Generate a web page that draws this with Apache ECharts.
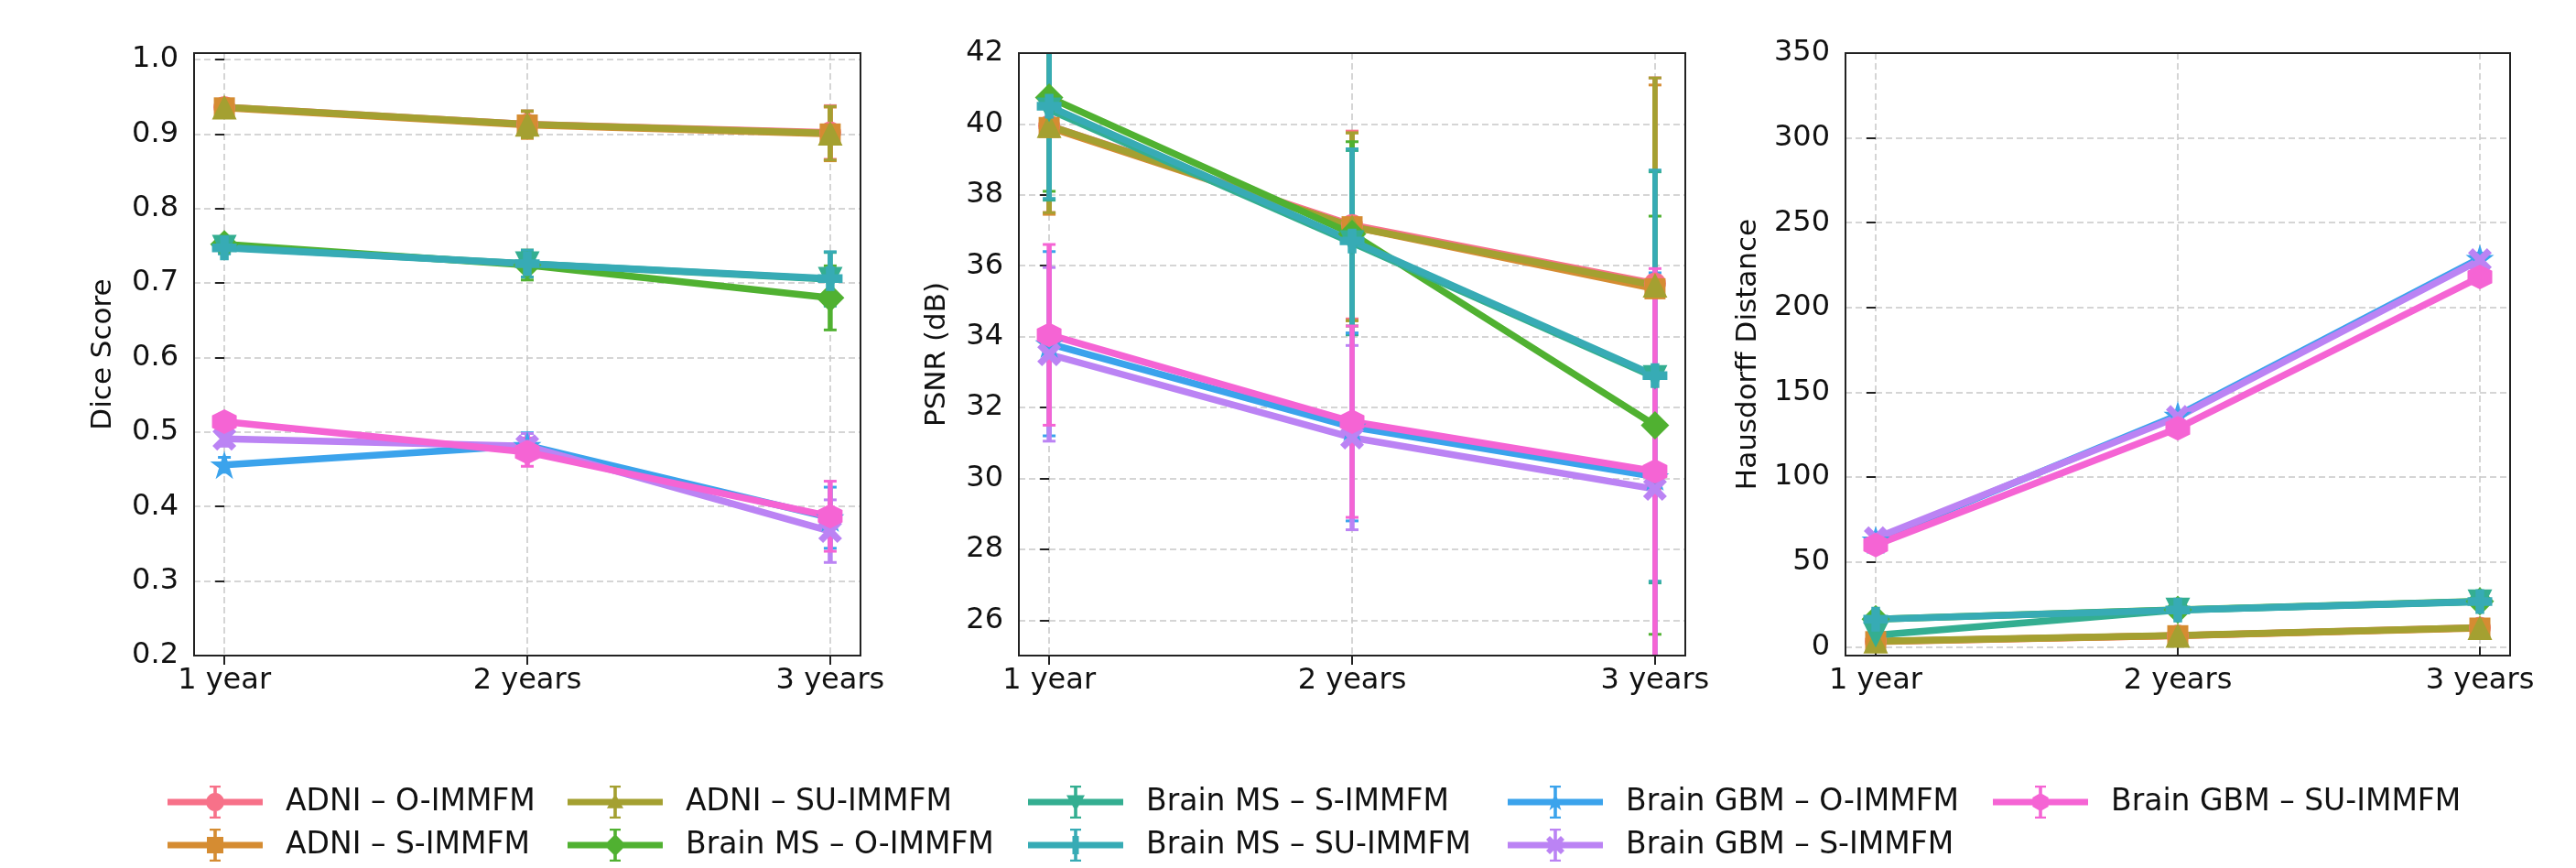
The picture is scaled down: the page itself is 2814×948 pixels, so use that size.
<!DOCTYPE html>
<html><head><meta charset="utf-8">
<script src="https://cdn.jsdelivr.net/npm/echarts@6/dist/echarts.min.js"></script>
<style>html,body{margin:0;padding:0;background:#fff}#c{width:2814px;height:948px}</style>
</head><body><div id="c"></div>
<script>
// ---------------- DATA ----------------
const categories = ['1 year', '2 years', '3 years'];
const seriesNames = [
  'ADNI – O-IMMFM', 'ADNI – S-IMMFM', 'ADNI – SU-IMMFM',
  'Brain MS – O-IMMFM', 'Brain MS – S-IMMFM', 'Brain MS – SU-IMMFM',
  'Brain GBM – O-IMMFM', 'Brain GBM – S-IMMFM', 'Brain GBM – SU-IMMFM'
];
// Dice score (mean, std) per series, per time point
const diceMeans = [
  [0.936, 0.913, 0.902],
  [0.935, 0.912, 0.900],
  [0.936, 0.913, 0.901],
  [0.752, 0.724, 0.680],
  [0.748, 0.726, 0.705],
  [0.747, 0.726, 0.706],
  [0.456, 0.482, 0.385],
  [0.491, 0.481, 0.367],
  [0.514, 0.473, 0.387]
];
const diceStds = [
  [0.008, 0.018, 0.036],
  [0.008, 0.018, 0.036],
  [0.008, 0.018, 0.036],
  [0.008, 0.020, 0.043],
  [0.008, 0.018, 0.036],
  [0.008, 0.018, 0.036],
  [0.010, 0.017, 0.041],
  [0.010, 0.017, 0.042],
  [0.010, 0.019, 0.047]
];
// PSNR (dB)
const psnrMeans = [
  [39.95, 37.15, 35.50],
  [39.90, 37.10, 35.35],
  [39.95, 37.10, 35.45],
  [40.75, 36.90, 31.50],
  [40.40, 36.65, 32.85],
  [40.50, 36.70, 32.90],
  [33.80, 31.45, 30.05],
  [33.50, 31.15, 29.70],
  [34.05, 31.60, 30.20]
];
const psnrStds = [
  [2.45, 2.65, 5.80],
  [2.45, 2.65, 5.75],
  [2.45, 2.65, 5.85],
  [2.65, 2.60, 5.90],
  [2.55, 2.60, 5.80],
  [2.60, 2.60, 5.80],
  [2.60, 2.65, 5.75],
  [2.45, 2.60, 5.70],
  [2.55, 2.70, 5.72]
];
// Hausdorff distance
const hdMeans = [
  [3.2, 6.6, 11.2],
  [3.0, 6.5, 11.0],
  [3.3, 6.7, 11.3],
  [16.2, 21.8, 26.8],
  [6.8, 21.6, 26.5],
  [16.3, 21.7, 26.6],
  [63.0, 136.5, 229.0],
  [64.0, 135.5, 228.0],
  [60.0, 128.8, 218.0]
];
const hdStds = [
  [0.5, 0.8, 1.0],
  [0.5, 0.8, 1.0],
  [0.5, 0.8, 1.0],
  [1.0, 1.0, 1.5],
  [1.0, 1.0, 1.5],
  [1.0, 1.0, 1.5],
  [1.5, 2.0, 3.0],
  [1.5, 2.0, 3.0],
  [1.5, 2.0, 3.0]
];
const diceTicks = [0.2, 0.3, 0.4, 0.5, 0.6, 0.7, 0.8, 0.9, 1.0];
const psnrTicks = [26, 28, 30, 32, 34, 36, 38, 40, 42];
const hdTicks = [0, 50, 100, 150, 200, 250, 300, 350];
const xTicks = [0, 1, 2];

// ---------------- STYLE ----------------
const colors = ['#f77189', '#d58c32', '#a4a031', '#50b131', '#34ae91', '#37abb5', '#3ba3ec', '#bb83f4', '#f564d4'];
function circlePts(n) { const a = []; for (let i = 0; i < n; i++) { const t = 2 * Math.PI * i / n; a.push([Math.cos(t), Math.sin(t)]); } return a; }
const markerShapes = [
  circlePts(24),
  [[-1, -1], [1, -1], [1, 1], [-1, 1]],
  [[0, -1], [1, 0.75], [-1, 0.75]],
  [[0, -1], [1, 0], [0, 1], [-1, 0]],
  [[-1, -0.75], [1, -0.75], [0, 1]],
  [[-0.35, -1], [0.35, -1], [0.35, -0.35], [1, -0.35], [1, 0.35], [0.35, 0.35], [0.35, 1], [-0.35, 1], [-0.35, 0.35], [-1, 0.35], [-1, -0.35], [-0.35, -0.35]],
  [[0, -1], [0.2245, -0.309], [0.951, -0.309], [0.363, 0.118], [0.588, 0.809], [0, 0.382], [-0.588, 0.809], [-0.363, 0.118], [-0.951, -0.309], [-0.2245, -0.309]],
  [[-0.6, -1], [0, -0.4], [0.6, -1], [1, -0.6], [0.4, 0], [1, 0.6], [0.6, 1], [0, 0.4], [-0.6, 1], [-1, 0.6], [-0.4, 0], [-1, -0.6]],
  [[0, -1], [0.866, -0.5], [0.866, 0.5], [0, 1], [-0.866, 0.5], [-0.866, -0.5]]
];
const symbolSizes = [24, 23, 27, 31, 27, 27, 31, 26, 27];
const legendMarkerR = [10, 9, 9, 12, 10, 10, 11, 10, 10];
const FONT = 'DejaVu Sans';

function polyStr(pts, cx, cy, rx, ry) {
  let p = pts.map(q => [cx + q[0] * rx, cy + q[1] * ry]);
  let area = 0;
  for (let i = 0; i < p.length; i++) { const a = p[i], b = p[(i + 1) % p.length]; area += a[0] * b[1] - b[0] * a[1]; }
  if (area < 0) p = p.slice().reverse();
  return 'M' + p.map(q => q[0].toFixed(2) + ',' + q[1].toFixed(2)).join(' L') + ' Z';
}
const symbolPaths = markerShapes.map(s => 'path://' + polyStr(s, 0, 0, 10, 10));
function legendIcon(i) {
  const W = 104, H = 36, cy = H / 2, cx = W / 2;
  const rect = (x0, y0, x1, y1) => polyStr([[0, 0], [1, 0], [1, 1], [0, 1]], x0, y0, x1 - x0, y1 - y0);
  const r = legendMarkerR[i];
  return 'path://' + [
    rect(0, cy - 3.5, W, cy + 3.5),
    rect(cx - 1.8, 0, cx + 1.8, H),
    rect(cx - 6, 0, cx + 6, 2.2),
    rect(cx - 6, H - 2.2, cx + 6, H),
    polyStr(markerShapes[i], cx, cy, r, r)
  ].join(' ');
}

const panels = [
  {means: diceMeans, stds: diceStds, ticks: diceTicks, min: 0.2, max: 1.0085, name: 'Dice Score', left: 212, width: 728, nameGap: 84, fmt: v => v.toFixed(1)},
  {means: psnrMeans, stds: psnrStds, ticks: psnrTicks, min: 25, max: 42, name: 'PSNR (dB)', left: 1113, width: 728, nameGap: 74, fmt: v => String(Math.round(v))},
  {means: hdMeans, stds: hdStds, ticks: hdTicks, min: -5.2, max: 350, name: 'Hausdorff Distance', left: 2016, width: 726, nameGap: 91, fmt: v => String(Math.round(v))}
];
const GTOP = 58, GH = 658;

const grids = [], xAxes = [], yAxes = [], series = [], frames = [];
panels.forEach((p, pi) => {
  grids.push({left: p.left, width: p.width, top: GTOP, height: GH, show: false, containLabel: false});
  frames.push({type: 'rect', silent: true, z: 100, shape: {x: p.left, y: GTOP, width: p.width, height: GH}, style: {fill: null, stroke: '#222', lineWidth: 2}});
  xAxes.push({
    type: 'value', gridIndex: pi, min: -0.1, max: 2.1,
    axisLine: {show: false},
    axisTick: {show: true, customValues: xTicks, length: 10, lineStyle: {color: '#222', width: 2}},
    axisLabel: {customValues: xTicks, formatter: v => categories[Math.round(v)], fontFamily: FONT, fontSize: 32, color: '#111', margin: 12},
    splitLine: {show: true, lineStyle: {color: '#c8c8c8', width: 1.5, type: [7, 4]}}
  });
  yAxes.push({
    type: 'value', gridIndex: pi, min: p.min, max: p.max,
    name: p.name, nameLocation: 'middle', nameRotate: 90, nameGap: p.nameGap,
    nameTextStyle: {fontFamily: FONT, fontSize: 31, color: '#111'},
    axisLine: {show: false},
    axisTick: {show: true, customValues: p.ticks, length: 10, lineStyle: {color: '#222', width: 2}},
    axisLabel: {customValues: p.ticks, formatter: p.fmt, fontFamily: FONT, fontSize: 32, color: '#111', margin: 17},
    splitLine: {show: true, lineStyle: {color: '#c8c8c8', width: 1.5, type: [7, 4]}}
  });
  seriesNames.forEach((nm, si) => {
    const color = colors[si];
    const errData = xTicks.map((x, k) => [x, p.means[si][k], p.stds[si][k]]);
    series.push({
      type: 'custom', xAxisIndex: pi, yAxisIndex: pi, silent: true,
      dimensions: ['x', 'm', 's'], encode: {x: 0, y: 1},
      data: errData,
      renderItem: function (params, api) {
        const x = api.value(0), m = api.value(1), s = api.value(2);
        const pt = api.coord([x, m + s]), pb = api.coord([x, m - s]);
        const cs = params.coordSys;
        const y0 = cs.y, y1 = cs.y + cs.height;
        const yt = Math.max(y0, pt[1]), yb = Math.min(y1, pb[1]);
        const cw = 7;
        const ch = [{type: 'line', shape: {x1: pt[0], y1: yt, x2: pt[0], y2: yb}, style: {stroke: color, lineWidth: 5.5}}];
        if (pt[1] >= y0) ch.push({type: 'line', shape: {x1: pt[0] - cw, y1: pt[1], x2: pt[0] + cw, y2: pt[1]}, style: {stroke: color, lineWidth: 3}});
        if (pb[1] <= y1) ch.push({type: 'line', shape: {x1: pb[0] - cw, y1: pb[1], x2: pb[0] + cw, y2: pb[1]}, style: {stroke: color, lineWidth: 3}});
        return {type: 'group', children: ch};
      }
    });
    series.push({
      type: 'line', name: nm, xAxisIndex: pi, yAxisIndex: pi,
      data: xTicks.map((x, k) => [x, p.means[si][k]]),
      symbol: symbolPaths[si], symbolSize: symbolSizes[si], showSymbol: true,
      lineStyle: {color: color, width: 7.5},
      itemStyle: {color: color, borderWidth: 0},
      emphasis: {disabled: true},
      animation: false
    });
  });
});

// legend: 5 columns x 2 rows, column-major
const legendCols = [183, 620, 1123, 1647, 2177];
const legendRows = [858, 905];
const legends = seriesNames.map((nm, i) => ({
  data: [{name: nm, icon: legendIcon(i)}],
  left: legendCols[Math.floor(i / 2)],
  top: legendRows[i % 2],
  itemWidth: 104, itemHeight: 36,
  padding: 0,
  selectedMode: false,
  itemStyle: {borderWidth: 0},
  textStyle: {fontFamily: FONT, fontSize: 33, color: '#111', padding: [0, 0, 0, 20]}
}));

const chart = echarts.init(document.getElementById('c'), null, {renderer: 'canvas', width: 2814, height: 948});
chart.setOption({
  animation: false,
  backgroundColor: '#fff',
  grid: grids, xAxis: xAxes, yAxis: yAxes,
  legend: legends,
  graphic: frames,
  series: series
});
</script></body></html>
